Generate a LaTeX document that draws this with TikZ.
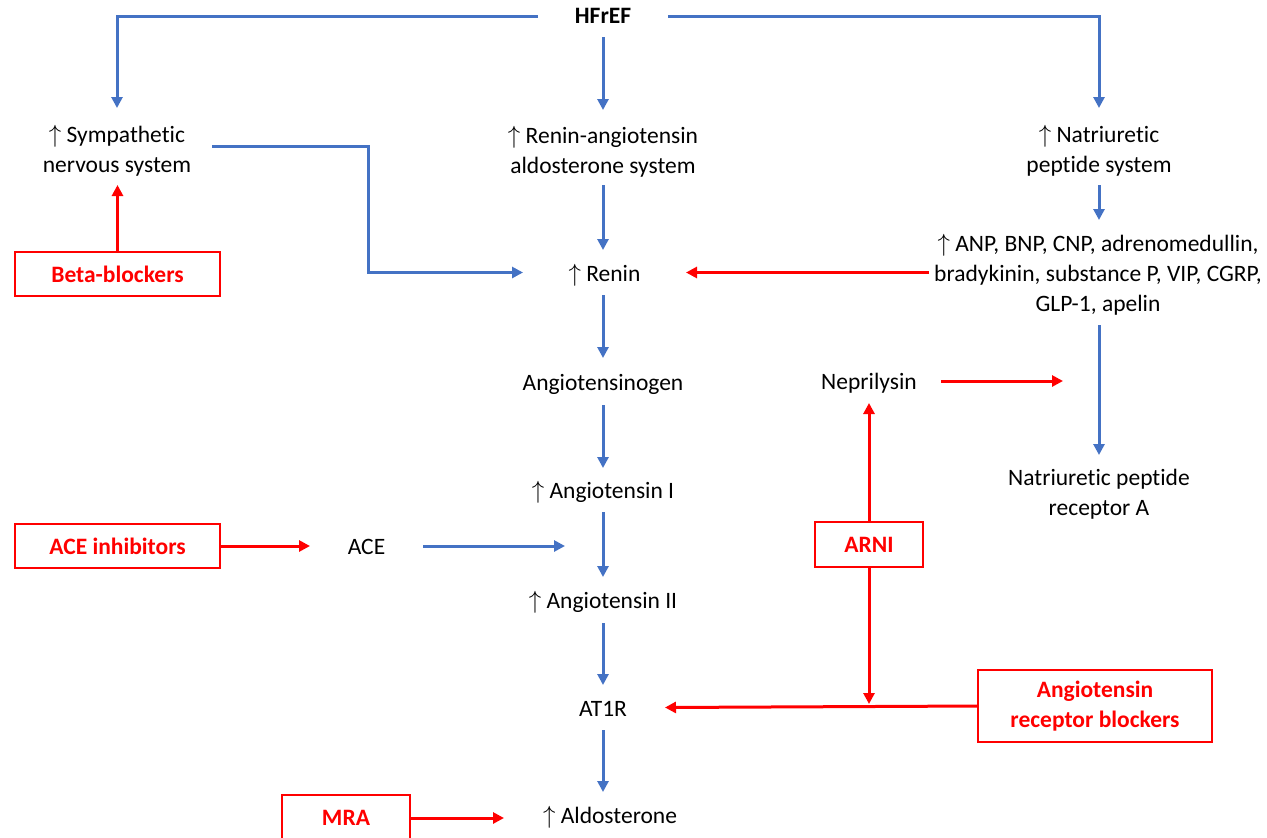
\documentclass[tikz,border=0pt]{standalone}
\usepackage{fontspec}
\setmainfont[Ligatures={NoCommon,NoRare}]{Carlito}
\usetikzlibrary{arrows.meta,calc}
\definecolor{flowblue}{HTML}{4472C4}
\definecolor{drugred}{HTML}{FF0000}
\newcommand{\topstrut}[1]{\rule{0pt}{#1}}
\begin{document}
\begin{tikzpicture}[x=1pt,y=-1pt,
  txt/.style={inner sep=0pt,outer sep=0pt,align=center,font=\fontsize{23.5}{30}\selectfont},
  one/.style={text height=19pt,text depth=2pt},
  drugbox/.style={txt,draw=drugred,line width=1.6pt,text=drugred,font=\fontsize{23.5}{30}\selectfont\bfseries},
  bl/.style={draw=flowblue,line width=3pt,-{Triangle[length=11pt,width=11pt]}},
  rd/.style={draw=drugred,line width=3pt,-{Triangle[length=11pt,width=11pt]}}]
\useasboundingbox (0,0) rectangle (1267,838);
% nodes
\node[txt,font=\fontsize{23.5}{30}\selectfont\bfseries,minimum width=130pt,minimum height=42pt] (hf) at (603,16) {HFrEF};
\node[txt,minimum width=190pt,minimum height=77pt] (symp) at (117,146.5) {\topstrut{26pt}$\uparrow$ Sympathetic\\nervous system};
\node[txt,minimum width=200pt,minimum height=75pt] (raas) at (603,147.5) {\topstrut{26pt}$\uparrow$ Renin-angiotensin\\aldosterone system};
\node[txt,minimum width=160pt,minimum height=77pt] (nps) at (1099,146.5) {\topstrut{26pt}$\uparrow$ Natriuretic\\peptide system};
\node[txt,one,minimum width=163pt,minimum height=45pt] (renin) at (604.5,272.5) {$\uparrow$ Renin};
\node[txt,minimum width=338pt,minimum height=105pt] (anp) at (1098,272.5) {\topstrut{21pt}$\uparrow$ ANP, BNP, CNP, adrenomedullin,\\bradykinin, substance P, VIP, CGRP,\\GLP-1, apelin};
\node[drugbox,minimum width=205pt,minimum height=44pt] (bb) at (117.5,274) {Beta-blockers};
\node[txt,one,minimum width=170pt,minimum height=47pt] (agen) at (603,381.5) {Angiotensinogen};
\node[txt,one,minimum width=144pt,minimum height=44pt] (nep) at (869,381) {Neprilysin};
\coordinate (nepend) at (1063,381);
\node[txt,one,minimum width=180pt,minimum height=44pt] (ang1) at (603,490) {$\uparrow$ Angiotensin I};
\node[txt,minimum width=260pt,minimum height=74pt] (npra) at (1099,492) {\topstrut{21pt}Natriuretic peptide\\receptor A};
\node[drugbox,minimum width=205pt,minimum height=44pt] (acei) at (117.5,546) {ACE inhibitors};
\node[txt,one,minimum width=113pt,minimum height=40pt] (ace) at (366.5,546) {ACE};
\coordinate (aceend) at (565,546);
\node[drugbox,minimum width=108pt,minimum height=45pt] (arni) at (869,544.5) {ARNI};
\node[txt,one,minimum width=180pt,minimum height=46pt] (ang2) at (603,600) {$\uparrow$ Angiotensin II};
\node[txt,one,minimum width=124pt,minimum height=45pt] (at1r) at (603,707.5) {AT1R};
\node[drugbox,minimum width=234pt,minimum height=72pt] (arb) at (1095,706) {Angiotensin\\receptor blockers};
\node[txt,one,minimum width=212pt,minimum height=46pt] (aldo) at (610,815) {$\uparrow$ Aldosterone};
\node[drugbox,minimum width=128pt,minimum height=46pt] (mra) at (346,818) {MRA};
\coordinate (junc) at (arni.south |- arb.west);
% blue connectors
\draw[bl] (hf.west) -| (symp.north);
\draw[bl] (hf.east) -| (nps.north);
\draw[bl] (hf.south) -- (raas.north);
\draw[bl] (raas.south) -- (renin.north -| raas.south);
\draw[bl] (symp.east) -- ++(156,0) |- (renin.west);
\draw[bl] (nps.south) -- (anp.north -| nps.south);
\draw[bl] (renin.south -| agen.north) -- (agen.north);
\draw[bl] (agen.south) -- (ang1.north);
\draw[bl] (ang1.south) -- (ang2.north);
\draw[bl] (ace.east) -- (aceend);
\draw[bl] (ang2.south) -- (at1r.north);
\draw[bl] (at1r.south) -- (at1r.south |- aldo.north);
\draw[bl] (anp.south -| npra.north) -- (npra.north);
% red connectors
\draw[rd] (bb.north) -- (symp.south -| bb.north);
\draw[rd] (anp.west) -- (renin.east);
\draw[rd] (nep.east) -- (nepend);
\draw[rd] (acei.east) -- (ace.west);
\draw[rd] (mra.east) -- (mra.east -| aldo.west);
\draw[rd] (arni.north) -- (nep.south);
\draw[rd,shorten >=2pt] (arni.south) -- (junc);
\draw[rd] (arb.west) -- (at1r.east);
\end{tikzpicture}
\end{document}
